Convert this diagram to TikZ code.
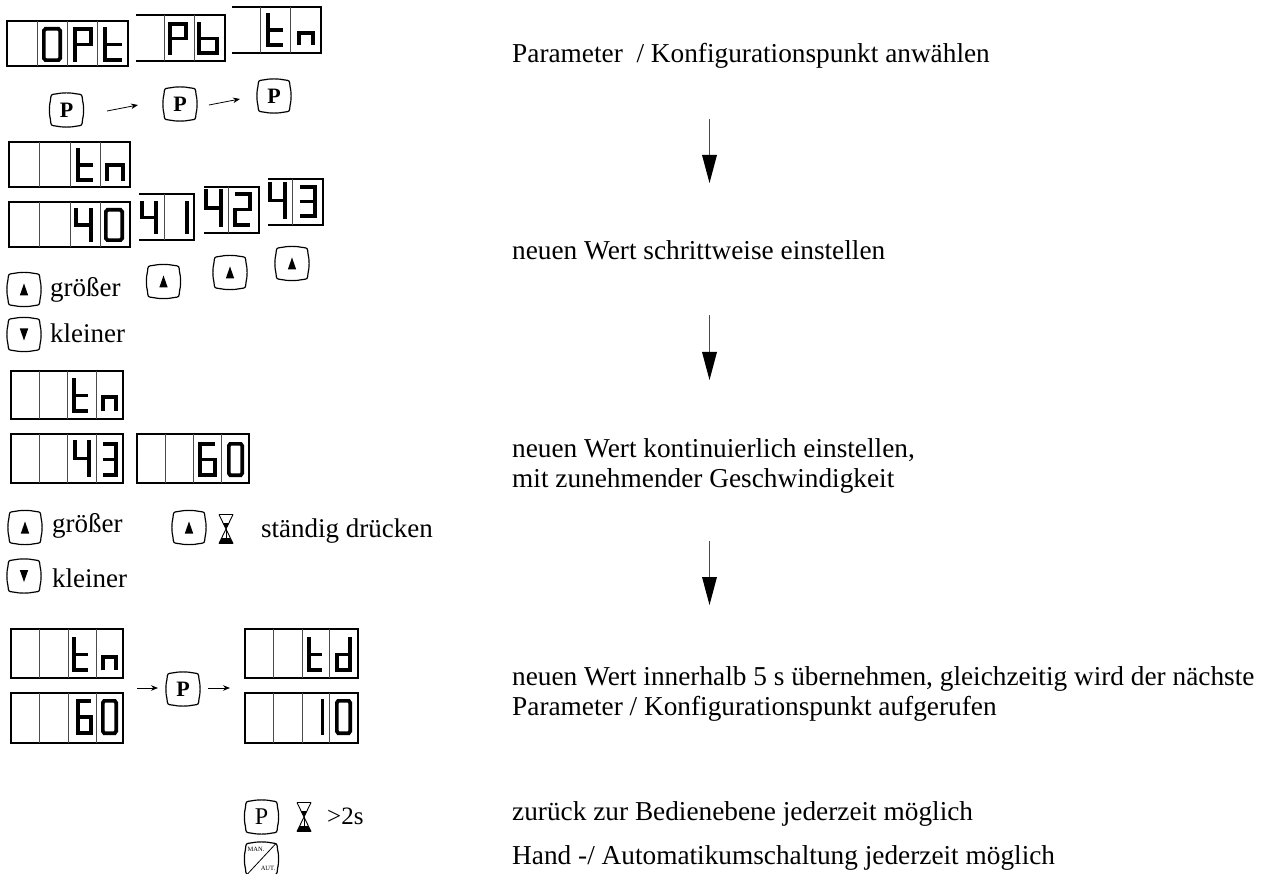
\documentclass[tikz,border=0pt]{standalone}
\usepackage{fontspec}
\setmainfont{Liberation Serif}
\usetikzlibrary{arrows.meta}
% glyph given by its outer box x1 y1 x2 y2
\newcommand{\gly}[5]{\pgfmathsetmacro{\gw}{#3-#1-3.7}\pgfmathsetmacro{\gh}{#4-#2-3.7}\begin{scope}[shift={(#1+1.85,#2+1.85)},x=\gw*1pt,y=-\gh*1pt]\draw[seg] #5;\end{scope}}
\newcommand{\dZero}{(0.1,0) -- (0.9,0) -- (1,0.06) -- (1,0.94) -- (0.9,1) -- (0.1,1) -- (0,0.94) -- (0,0.06) -- cycle}
\newcommand{\dP}{(0,1.05) -- (0,0) -- (1,0) -- (1,0.5) -- (0,0.5)}
\newcommand{\dT}{(0,-0.05) -- (0,1) -- (1,1) (0,0.5) -- (1,0.5)}
\newcommand{\dN}{(0,1.1) -- (0,0) -- (1,0) -- (1,1.1)}
\newcommand{\dB}{(0,-0.05) -- (0,1) -- (1,1) -- (1,0.5) -- (0,0.5)}
\newcommand{\dD}{(1,-0.05) -- (1,1) -- (0,1) -- (0,0.5) -- (1,0.5)}
\newcommand{\dFour}{(0,-0.05) -- (0,0.5) -- (1,0.5) (1,-0.05) -- (1,1.05)}
\newcommand{\dOne}{(0.5,-0.05) -- (0.5,1.05)}
\newcommand{\dTwo}{(0,0) -- (1,0) -- (1,0.5) -- (0,0.5) -- (0,1) -- (1,1)}
\newcommand{\dThree}{(0,0) -- (1,0) -- (1,1) -- (0,1) (0,0.5) -- (1,0.5)}
\newcommand{\dSix}{(1,0) -- (0,0) -- (0,1) -- (1,1) -- (1,0.5) -- (0,0.5)}
\newcommand{\btnshape}[1]{\draw[btnline] ([shift={(-11,-16)}]#1.center) .. controls ([shift={(-4,-17.5)}]#1.center) and ([shift={(4,-17.5)}]#1.center) .. ([shift={(11,-16)}]#1.center) .. controls ([shift={(15.5,-15.5)}]#1.center) .. ([shift={(16,-10)}]#1.center) .. controls ([shift={(17.5,-4)}]#1.center) and ([shift={(17.5,4)}]#1.center) .. ([shift={(16,10)}]#1.center) .. controls ([shift={(15.5,15.5)}]#1.center) .. ([shift={(11,16)}]#1.center) .. controls ([shift={(4,17.5)}]#1.center) and ([shift={(-4,17.5)}]#1.center) .. ([shift={(-11,16)}]#1.center) .. controls ([shift={(-15.5,15.5)}]#1.center) .. ([shift={(-16,10)}]#1.center) .. controls ([shift={(-17.5,4)}]#1.center) and ([shift={(-17.5,-4)}]#1.center) .. ([shift={(-16,-10)}]#1.center) .. controls ([shift={(-15.5,-15.5)}]#1.center) .. cycle;}
\newcommand{\upbtn}[2]{\node[lab] (#1) at (#2) {}; \btnshape{#1}\fill ([shift={(0,-6)}]#1.center) -- ([shift={(4.2,6)}]#1.center) -- ([shift={(-4.2,6)}]#1.center) -- cycle;}
\newcommand{\downbtn}[2]{\node[lab] (#1) at (#2) {}; \btnshape{#1}\fill ([shift={(0,6)}]#1.center) -- ([shift={(4.2,-6)}]#1.center) -- ([shift={(-4.2,-6)}]#1.center) -- cycle;}
\newcommand{\pbtn}[2]{\node[lab,font=\fontsize{22}{22}\selectfont\bfseries] (#1) at (#2) {P}; \btnshape{#1}}
\newcommand{\fulld}[7]{\draw[frame] (#1,#3) rectangle (#2,#4);\draw[divl] (#5,#3) -- (#5,#4) (#6,#3) -- (#6,#4) (#7,#3) -- (#7,#4);}
\newcommand{\opend}[6]{\draw[frame] (#1,#3) -- (#2,#3) -- (#2,#4) -- (#1,#4);\draw[divl] (#5,#3) -- (#5,#4);\ifx&#6&\else\draw[divl] (#6,#3) -- (#6,#4);\fi}
\newcommand{\hglass}[1]{\begin{scope}[shift={(#1)}]
\draw[line width=0.9pt] (-7,-14.5) -- (7,-14.5) (-7,14.5) -- (7,14.5) (-7,-14.5) -- (7,14.5) (7,-14.5) -- (-7,14.5);
\fill (-3,-6) -- (3,-6) -- (0,0) -- cycle;
\fill (-7,14.5) -- (7,14.5) -- (4,9) -- (-4,9) -- cycle;
\draw[line width=0.5pt] (0,0) -- (0,14);
\end{scope}}
\tikzset{
 seg/.style={line width=3.7pt,line join=miter,black},
 frame/.style={line width=1.9pt,black,line join=miter},
 divl/.style={line width=0.9pt,black!70},
 btnline/.style={line width=1.2pt,black},
 lab/.style={inner sep=0pt,outer sep=0pt,minimum size=33pt},
 txt/.style={anchor=base west,inner sep=0pt,text height=17pt,text depth=5pt,font=\fontsize{27}{27}\selectfont},
 rtxt/.style={txt,font=\fontsize{27.3}{27.3}\selectfont},
 smallarrow/.style={line width=0.8pt,-{Stealth[length=7pt,width=5.5pt]}},
}
\begin{document}
\begin{tikzpicture}[x=1pt,y=-1pt]
\useasboundingbox (0,0) rectangle (1263,874);
% Row 1
\fulld{7}{128}{21}{66}{37.5}{67.5}{97.5}
\gly{42}{27}{62}{62}{\dZero}
\gly{73}{27}{93}{62}{\dP}
\gly{103}{27}{124}{62}{\dT}
\opend{136}{225}{15}{61}{164}{194}
\gly{168}{22}{188}{55}{\dP}
\gly{197}{22}{219}{55}{\dB}
\opend{232}{321}{7}{53}{260}{290}
\gly{266}{13}{285}{47}{\dT}
\gly{297}{31}{315}{46}{\dN}
\pbtn{p1}{66.5,110}
\pbtn{p2}{180,104}
\pbtn{p3}{274,96}
\coordinate (a1s) at (107,111); \coordinate (a1e) at (138,105);
\coordinate (a2s) at (209,105); \coordinate (a2e) at (240,99);
\draw[smallarrow] (a1s) -- (a1e);
\draw[smallarrow] (a2s) -- (a2e);
% Row 2
\fulld{9}{130}{142}{187}{39}{70}{100}
\gly{76}{148}{95}{182}{\dT}
\gly{105}{163}{125}{181}{\dN}
\fulld{9}{130}{202}{247}{39}{70}{100}
\gly{74}{208}{93}{242}{\dFour}
\gly{104}{208}{124}{242}{\dZero}
\opend{139}{194}{194}{240}{164}{}
\gly{140}{201}{158}{234}{\dFour}
\gly{185}{201}{189}{234}{\dOne}
\opend{204}{259}{187}{233}{228}{}
\gly{204}{189}{223}{227}{\dFour}
\gly{233}{192}{252}{227}{\dTwo}
\opend{268}{323}{179}{225}{292}{}
\gly{268}{182}{287}{219}{\dFour}
\gly{298}{185}{317}{218}{\dThree}
\upbtn{u1}{24,289.5}
\downbtn{d1}{24,334.5}
\upbtn{u2}{163.5,281.5}
\upbtn{u3}{230,272.5}
\upbtn{u4}{292,263.5}
\node[txt] (t1) at (50,297) {größer};
\node[txt] (t2) at (50,343) {kleiner};
% Row 3
\fulld{11}{123}{371}{419}{39}{67}{96}
\gly{72}{378}{90}{413}{\dT}
\gly{101}{395}{118}{412}{\dN}
\fulld{11}{123}{434}{483}{39}{67}{96}
\gly{73}{440}{91}{477}{\dFour}
\gly{101}{442}{118}{477}{\dThree}
\fulld{137}{249}{434}{483}{165}{193.5}{221}
\gly{198}{442}{217}{477}{\dSix}
\gly{227}{442}{244}{477}{\dZero}
\upbtn{u5}{25,527.5}
\upbtn{u6}{189,527.5}
\hglass{226,529}
\node[txt] (t3) at (52,532) {größer};
\node[txt] (t4) at (261,537) {ständig drücken};
\downbtn{d2}{24,576}
\node[txt] (t5) at (52,587) {kleiner};
% Row 4
\fulld{11}{123}{629}{678}{39}{68}{96}
\gly{72}{637}{90}{672}{\dT}
\gly{101}{655}{118}{671}{\dN}
\fulld{11}{123}{693}{743}{39}{68}{96}
\gly{76}{699}{93}{735}{\dSix}
\gly{101}{699}{118}{735}{\dZero}
\fulld{245}{358}{629}{678}{273}{302}{329}
\gly{307}{637}{324}{672}{\dT}
\gly{335}{637}{352}{672}{\dD}
\fulld{245}{358}{693}{743}{273}{302}{329}
\gly{320}{699}{325}{735}{\dOne}
\gly{335}{699}{352}{735}{\dZero}
\pbtn{p4}{183,689}
\coordinate (a3s) at (137,688); \coordinate (a3e) at (158,688);
\coordinate (a4s) at (208,688); \coordinate (a4e) at (230,688);
\draw[smallarrow] (a3s) -- (a3e);
\draw[smallarrow] (a4s) -- (a4e);
% Bottom
\node[lab,font=\fontsize{24}{24}\selectfont] (p5) at (261.5,817) {P};
\btnshape{p5}
\hglass{304,817}
\node[txt,font=\fontsize{25}{25}\selectfont] (t6) at (327,824) {>2s};
\node[lab] (m1) at (261.5,859) {};
\btnshape{m1}
\draw[line width=0.8pt] ([shift={(14,-15)}]m1.center) -- ([shift={(-14,15)}]m1.center);
\node[font=\fontsize{6.5}{6.5}\selectfont,inner sep=0pt] (m2) at (256,849) {MAN.};
\node[font=\fontsize{6.5}{6.5}\selectfont,inner sep=0pt] (m3) at (268,868) {AUT.};
% Right text
\node[rtxt] (r1) at (512,63) {Parameter\ \ / Konfigurationspunkt anwählen};
\node[rtxt] (r2) at (512,260) {neuen Wert schrittweise einstellen};
\node[rtxt] (r3) at (512,457) {neuen Wert kontinuierlich einstellen,};
\node[rtxt] (r4) at (512,487) {mit zunehmender Geschwindigkeit};
\node[rtxt] (r5) at (512,685) {neuen Wert innerhalb 5 s übernehmen, gleichzeitig wird der nächste};
\node[rtxt] (r6) at (512,715) {Parameter / Konfigurationspunkt aufgerufen};
\node[rtxt] (r7) at (512,820) {zurück zur Bedienebene jederzeit möglich};
\node[rtxt] (r8) at (512,864) {Hand -/ Automatikumschaltung jederzeit möglich};
% Big arrows
\coordinate (b1) at (709.5,119); \coordinate (c1) at (709.5,183);
\coordinate (b2) at (709.5,315); \coordinate (c2) at (709.5,380);
\coordinate (b3) at (709.5,541); \coordinate (c3) at (709.5,605);
\foreach \s/\e in {b1/c1,b2/c2,b3/c3}{
 \draw[line width=1.3pt,black!70] (\s) -- ([yshift=28pt]\e);
 \fill ([yshift=28pt,xshift=-7.5pt]\e) -- ([yshift=28pt,xshift=7.5pt]\e) -- (\e) -- cycle;
}
\end{tikzpicture}
\end{document}
